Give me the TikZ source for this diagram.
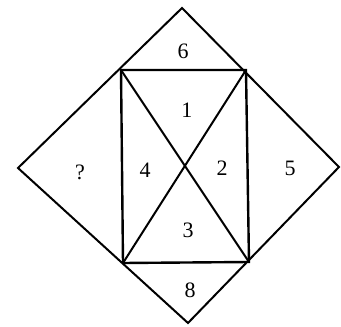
\documentclass[tikz,border=0pt]{standalone}
\usepackage{fontspec}
\setmainfont{Liberation Serif}
\usetikzlibrary{calc}

\begin{document}
\begin{tikzpicture}[x=1pt, y=-1pt, line width=2pt, line join=miter,
  every node/.style={font=\fontsize{22}{26}\selectfont}]
\useasboundingbox (0,0) rectangle (341,327);
\coordinate (top) at (182,8);
\coordinate (lft) at (18,168);
\coordinate (rgt) at (339,167);
\coordinate (bot) at (188,323);
\coordinate (tl) at (121,70);
\coordinate (tr) at (246,70);
\coordinate (bl) at (123,263);
\coordinate (br) at (249,262);

\draw (top) -- (rgt) -- (bot) -- (lft) -- cycle;
\draw[line width=2.4pt] (tl) -- (tr) -- (br) -- (bl) -- cycle;
\draw (tl) -- (br);
\draw (tr) -- (bl);

\node (six) at (183,51) {6};
\node (one) at (187,110) {1};
\node (four) at (145,170) {4};
\node (two) at (222,168) {2};
\node (five) at (290,168) {5};
\node (what) at (80,172) {?};
\node (three) at (188,230) {3};
\node (eight) at (190,290) {8};
\end{tikzpicture}
\end{document}
